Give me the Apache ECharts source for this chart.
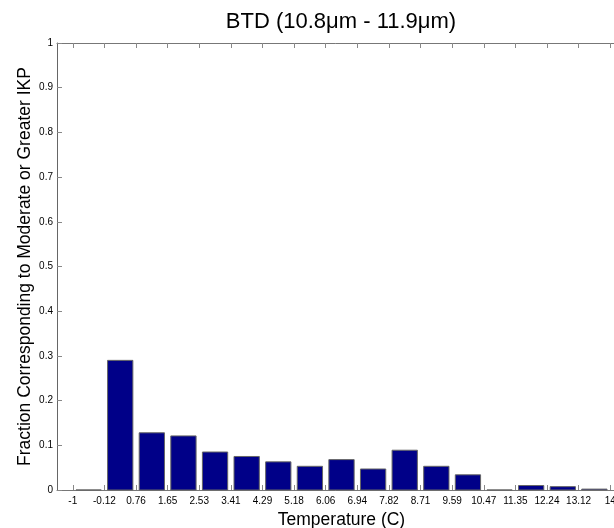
<!DOCTYPE html>
<html>
<head>
<meta charset="utf-8">
<script src="https://cdn.jsdelivr.net/npm/echarts@6/dist/echarts.min.js"></script>
<style>
  html, body { margin: 0; padding: 0; background: #fff; }
  #chart { width: 614px; height: 528px; }
</style>
</head>
<body>
<div id="chart"></div>
<script>
// bin edges (tick labels) and the fraction in each bin between two edges
const tickLabels = ['-1', '-0.12', '0.76', '1.65', '2.53', '3.41', '4.29', '5.18', '6.06',
  '6.94', '7.82', '8.71', '9.59', '10.47', '11.35', '12.24', '13.12', '14'];
const fractions = [0, 0.290, 0.128, 0.121, 0.085, 0.075, 0.063, 0.053, 0.068,
  0.047, 0.089, 0.053, 0.034, 0, 0.010, 0.0075, 0.002];
const yTicks = { min: 0, max: 1, step: 0.1 };

const font = '"Liberation Sans", Arial, Helvetica, sans-serif';
const barData = fractions.map((v, i) => [i, v]);

const chart = echarts.init(document.getElementById('chart'));

const tickAxis = (pos) => ({
  type: 'category',
  position: pos,
  data: tickLabels,
  boundaryGap: true,
  axisLine: { show: true, onZero: false, lineStyle: { color: '#777', width: 1 } },
  axisTick: { show: true, inside: true, alignWithLabel: true, length: 5, interval: 0,
    lineStyle: { color: '#888' } },
  axisLabel: { show: pos === 'bottom', interval: 0, fontSize: 10, color: '#000',
    fontFamily: font, margin: 6 },
  splitLine: { show: false }
});

chart.setOption({
  animation: false,
  title: {
    text: 'BTD (10.8μm - 11.9μm)',
    left: 336,
    top: 6,
    textAlign: 'center',
    textStyle: { fontSize: 22, fontWeight: 'normal', color: '#000', fontFamily: font }
  },
  grid: { left: 57, top: 43, width: 569, height: 447, containLabel: false, outerBoundsMode: 'none' },
  xAxis: [
    Object.assign(tickAxis('bottom'), {
      name: 'Temperature (C)',
      nameLocation: 'middle',
      nameGap: 18,
      nameTextStyle: { fontSize: 17.5, color: '#000', fontFamily: font }
    }),
    tickAxis('top'),
    { type: 'value', min: -0.5, max: 17.5, show: false }
  ],
  yAxis: {
    type: 'value',
    min: yTicks.min,
    max: yTicks.max,
    interval: yTicks.step,
    name: 'Fraction Corresponding to Moderate or Greater IKP',
    nameLocation: 'middle',
    nameGap: 23,
    nameMoveOverlap: false,
    nameTextStyle: { fontSize: 17.5, color: '#000', fontFamily: font },
    axisLine: { show: true, onZero: false, lineStyle: { color: '#666' } },
    axisTick: { show: true, inside: true, length: 5, lineStyle: { color: '#888' } },
    axisLabel: { fontSize: 10, color: '#000', fontFamily: font, margin: 4,
      formatter: v => String(+v.toFixed(1)) },
    splitLine: { show: false }
  },
  series: [{
    type: 'custom',
    xAxisIndex: 2,
    data: barData,
    renderItem: (params, api) => {
      const k = api.value(0);
      const v = api.value(1);
      const p0 = api.coord([k + 0.1, v]);
      const p1 = api.coord([k + 0.9, 0]);
      return {
        type: 'rect',
        shape: { x: p0[0], y: p0[1], width: p1[0] - p0[0], height: p1[1] - p0[1] },
        style: { fill: '#000088', stroke: '#666', lineWidth: 1 }
      };
    }
  }]
});
</script>
</body>
</html>
